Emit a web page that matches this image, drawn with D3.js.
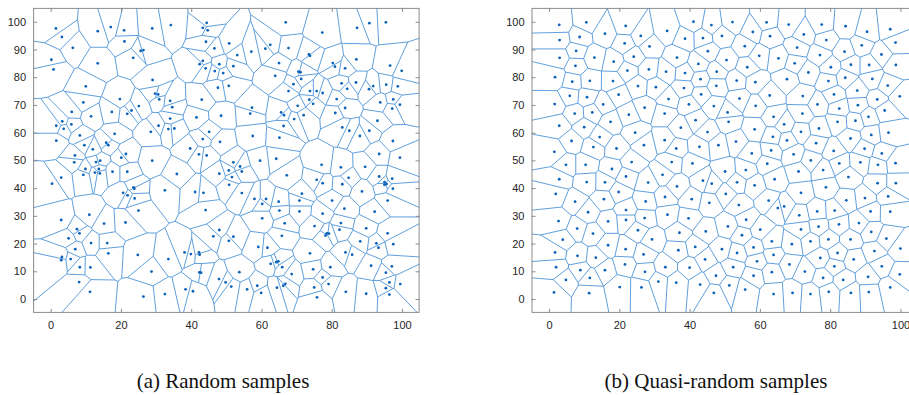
<!DOCTYPE html>
<html>
<head>
<meta charset="utf-8">
<script src="https://cdn.jsdelivr.net/npm/d3@7"></script>
<style>
  body { margin: 0; background: #fff; }
  svg { display: block; }
</style>
</head>
<body>
<svg id="chart" width="909" height="395"></svg>
<script>
// Axis settings shared by both panels
const axisDomain = [-5, 105];
const xTickValues = [0, 20, 40, 60, 80, 100];
const yTickValues = [0, 10, 20, 30, 40, 50, 60, 70, 80, 90, 100];
const captions = ["(a) Random samples", "(b) Quasi-random samples"];

// Sample sites for panel (a): uniformly random points in [0,100]^2
const randomSamples = [
  [1.5,97.6],[3.2,94.5],[6.3,90.6],[13.4,96.6],[17.1,98.1],[20.9,96.9],[28.9,97.6],[21.0,92.9],[25.6,89.5],[26.4,89.8],
  [23.5,87.0],[0.2,86.3],[0.8,82.8],[13.4,85.0],[29.0,79.0],[10.0,76.7],[29.7,74.1],[30.6,73.8],[30.9,72.0],[19.7,72.1],
  [9.3,70.9],[25.1,69.6],[23.0,68.0],[21.8,66.8],[6.0,67.5],[17.4,67.5],[11.5,65.9],[3.3,64.1],[1.6,62.5],[3.7,61.4],
  [5.9,63.0],[28.5,60.3],[30.7,62.5],[18.2,59.6],[8.3,59.0],[1.6,57.1],[9.6,55.5],[15.8,56.4],[16.4,55.5],[12.0,54.0],
  [6.9,51.8],[21.4,52.3],[20.1,51.0],
  [34.2,98.8],[44.4,99.6],[43.3,97.8],[44.7,96.9],[66.9,99.8],[44.2,92.8],[50.8,92.2],[46.6,90.4],[62.5,91.7],[61.1,90.3],
  [67.7,90.5],[57.1,89.2],[53.1,88.0],[43.3,85.9],[42.4,84.7],[48.0,84.7],[44.1,83.2],[52.0,84.0],[65.0,85.1],[46.7,82.2],
  [49.1,81.5],[63.9,80.5],[50.7,76.9],[47.6,76.2],[67.7,75.0],[34.0,71.5],[34.6,69.2],[43.0,71.9],[57.3,69.0],[56.8,66.9],
  [65.6,67.3],[66.4,66.3],[41.5,65.5],[48.5,66.1],[34.0,65.1],[33.5,61.3],[35.2,61.5],[66.3,62.4],[45.1,60.3],[57.5,58.8],
  [43.3,57.7],[65.1,58.2],[48.2,56.7],[39.7,54.3],[42.2,52.2],[44.4,51.8],
  [77.3,96.1],[87.2,97.8],[90.7,99.5],[95.4,99.8],[73.5,88.2],[73.8,87.7],[87.0,86.4],[80.3,85.1],[80.9,83.8],[96.6,84.2],
  [83.8,83.2],[99.9,82.3],[70.5,82.0],[71.1,81.8],[71.3,79.4],[69.1,77.5],[82.8,77.8],[86.9,78.1],[91.8,76.8],[90.6,75.7],
  [95.5,77.3],[98.8,76.7],[84.4,75.8],[73.8,75.0],[75.7,75.0],[77.4,74.3],[81.4,72.1],[73.6,71.9],[74.7,70.4],[93.8,70.9],
  [97.5,72.0],[99.4,70.1],[70.3,69.7],[83.8,68.9],[97.2,68.7],[81.0,67.1],[72.0,66.3],[69.3,64.9],[93.0,64.3],[83.0,61.9],
  [85.0,60.7],[90.7,60.7],[88.0,58.8],[97.4,57.0],[93.5,52.3],[99.4,51.0],
  [6.7,49.3],[9.9,46.9],[12.9,49.4],[14.1,49.9],[13.7,46.9],[12.6,45.6],[14.0,45.3],[9.3,44.8],[3.0,43.8],[0.4,41.6],
  [17.6,45.9],[21.8,45.9],[28.9,49.9],[20.6,38.3],[21.9,37.4],[23.6,40.3],[23.8,39.8],[23.9,36.3],[25.0,31.9],[11.0,30.4],
  [3.0,28.5],[15.2,27.2],[21.3,27.6],[7.5,25.2],[8.2,23.7],[5.1,21.9],[11.5,20.2],[16.1,20.2],[7.0,18.0],[16.4,16.5],
  [24.8,15.9],[3.2,15.2],[3.0,14.0],[5.7,14.4],[8.3,11.5],[11.3,11.4],[28.7,9.9],[8.1,6.1],[11.2,2.6],[26.4,0.9],
  [35.9,45.1],[52.0,49.3],[53.9,47.8],[54.4,46.0],[50.7,46.4],[48.0,45.2],[51.6,44.0],[50.8,41.2],[59.6,49.9],[64.2,50.6],
  [67.2,44.6],[32.5,39.2],[41.1,38.6],[43.5,38.3],[54.4,38.2],[58.0,36.1],[61.3,36.1],[60.2,34.3],[64.9,35.1],[65.1,31.9],
  [44.1,32.1],[60.2,29.1],[66.6,27.3],[48.0,24.9],[46.3,22.6],[52.0,22.5],[50.7,21.0],[65.8,22.8],[59.1,18.8],[61.7,18.5],
  [38.1,16.8],[39.9,16.2],[42.2,16.8],[42.4,16.0],[33.5,14.4],[62.6,12.7],[64.2,13.3],[64.8,13.6],[65.9,11.5],[42.3,9.6],
  [42.8,9.5],[53.7,9.7],[47.9,7.2],[49.8,6.0],[51.4,4.5],[58.8,4.8],[64.4,4.1],[66.2,4.8],[66.8,5.5],[32.5,1.8],
  [38.4,3.5],[40.5,2.8],[55.9,3.5],[59.9,2.2],
  [77.1,48.4],[82.6,47.5],[89.5,47.7],[75.7,43.0],[77.4,41.8],[84.8,43.7],[83.0,41.4],[93.5,44.2],[95.0,42.2],[95.6,41.5],
  [95.0,41.2],[97.2,43.4],[97.4,39.8],[88.6,38.8],[71.5,38.0],[70.8,35.5],[80.1,35.5],[95.9,35.5],[70.8,31.6],[77.4,30.8],
  [83.6,32.6],[92.2,31.5],[82.6,27.4],[75.1,26.3],[82.2,25.0],[89.8,25.5],[78.6,23.7],[79.2,23.6],[78.2,22.9],[95.9,23.7],
  [88.1,20.8],[92.7,20.1],[93.3,18.5],[97.5,19.8],[83.9,16.8],[85.8,16.0],[73.8,16.5],[79.6,11.5],[91.2,12.0],[97.1,11.8],
  [74.7,10.7],[68.6,9.0],[95.4,9.5],[77.4,7.8],[96.4,6.0],[99.5,5.4],[79.1,5.4],[75.0,4.2],[95.4,3.9],[96.4,1.6],
  [84.0,2.6],[89.8,1.9],[75.8,0.6]
];

// Sample sites for panel (b): low-discrepancy (quasi-random) points in [0,100]^2
const quasiSamples = [
  [2.9,98.9],[10.6,99.8],[21.8,98.5],[26.1,94.9],[8.7,94.5],[15.9,95.7],[3.0,93.4],[21.5,92.2],[7.7,89.5],[28.6,91.1],
  [3.0,87.0],[12.9,87.1],[24.1,87.4],[18.4,85.6],[7.5,84.1],[22.3,82.4],[28.4,82.8],[1.7,80.0],[6.6,78.4],[11.6,78.7],
  [18.2,78.6],[25.3,76.8],[5.9,73.3],[10.8,72.8],[19.8,73.7],[1.6,70.3],[15.4,70.2],[27.2,69.0],[7.3,66.9],[12.3,67.3],
  [22.7,66.5],[2.9,62.5],[17.5,63.9],[10.0,62.0],[24.5,60.0],[14.4,58.4],[6.4,57.0],[27.0,55.5],[1.5,53.1],[19.2,54.3],
  [12.6,54.8],
  [41.1,100.0],[46.2,98.8],[52.2,99.9],[61.9,99.8],[33.6,96.7],[38.7,93.9],[43.8,94.1],[49.2,94.9],[58.0,96.3],[62.9,94.8],
  [55.7,91.2],[45.2,89.4],[36.4,87.1],[59.8,87.7],[42.5,84.8],[50.5,86.2],[56.4,83.6],[65.3,86.8],[33.3,82.0],[38.7,81.5],
  [47.7,82.0],[43.1,79.3],[53.4,78.8],[58.7,78.2],[30.4,76.4],[47.6,76.9],[38.4,76.1],[62.8,73.4],[43.3,73.8],[54.2,72.3],
  [34.0,72.1],[58.8,69.7],[39.8,70.2],[46.9,69.6],[32.9,66.9],[50.8,67.3],[41.7,64.5],[37.5,61.8],[51.1,63.9],[63.9,65.7],
  [45.1,60.2],[58.5,61.2],[32.9,57.3],[63.7,58.5],[53.2,56.8],[36.2,54.3],[42.8,54.9],[48.2,55.5],[63.2,53.6],[57.7,52.5],
  [68.2,99.0],[77.6,99.0],[84.4,98.4],[90.5,96.4],[97.1,97.3],[72.5,95.4],[78.9,93.4],[98.6,92.5],[70.6,90.7],[89.0,91.5],
  [84.1,89.2],[77.1,88.0],[94.6,88.2],[69.9,85.0],[80.2,83.6],[85.9,84.5],[91.1,84.4],[98.7,84.4],[73.8,81.7],[84.3,79.8],
  [92.0,79.4],[67.7,79.3],[79.5,78.6],[96.4,77.0],[87.7,75.2],[81.1,73.8],[72.2,73.2],[99.8,73.1],[93.4,72.0],[76.4,70.2],
  [87.9,69.9],[82.6,68.7],[72.1,66.9],[95.5,68.0],[90.9,65.7],[82.1,63.9],[87.2,64.3],[66.9,63.0],[76.8,61.5],[71.7,60.3],
  [96.6,60.0],[91.7,59.2],[85.8,57.9],[67.7,57.2],[76.0,56.2],[81.0,53.4],[89.8,54.2],[94.7,52.5],[69.6,52.2],
  [4.8,48.4],[10.4,48.4],[17.9,46.9],[23.5,49.4],[2.9,43.2],[10.7,42.2],[15.9,42.1],[21.9,44.2],[28.2,42.0],[1.9,37.9],
  [19.8,38.6],[7.4,35.1],[15.6,36.0],[27.5,35.2],[11.1,31.3],[21.9,32.1],[2.7,28.1],[16.8,28.0],[21.9,28.5],[27.2,29.2],
  [8.0,25.4],[12.5,23.6],[25.3,24.8],[3.9,21.4],[29.3,21.5],[16.8,19.4],[21.8,18.0],[1.7,16.8],[8.1,15.6],[13.3,14.9],
  [26.9,16.1],[2.0,11.5],[8.9,10.4],[15.9,10.4],[21.6,12.5],[27.3,9.8],[4.8,6.9],[11.6,7.6],[20.1,4.3],[26.3,4.2],
  [1.4,2.4],[11.4,2.1],
  [34.9,49.4],[40.8,48.9],[62.1,48.8],[50.1,46.0],[56.0,46.5],[32.3,44.8],[43.8,42.7],[46.3,41.6],[36.4,40.6],[53.5,42.1],
  [58.5,41.0],[64.2,43.2],[50.3,37.9],[40.6,36.0],[33.0,36.8],[62.5,35.5],[45.6,34.7],[54.0,33.9],[33.7,30.4],[39.7,29.1],
  [56.1,28.6],[65.1,32.8],[50.9,26.2],[44.6,24.4],[60.1,25.0],[37.1,23.9],[54.9,23.0],[63.4,20.8],[41.6,18.8],[49.2,18.0],
  [58.2,18.6],[36.8,17.6],[44.4,14.3],[53.5,16.6],[63.9,15.9],[33.1,11.5],[40.0,11.3],[52.4,11.5],[59.2,13.6],[47.5,8.4],
  [58.2,8.4],[63.4,9.7],[31.1,6.3],[36.2,5.9],[43.0,5.2],[51.3,4.9],[55.8,3.4],[46.9,2.2],[63.9,1.8],
  [74.5,50.0],[82.6,48.9],[88.6,49.3],[93.6,48.4],[98.6,49.0],[71.0,46.0],[78.0,46.5],[85.2,44.0],[93.5,41.8],[98.7,41.8],
  [71.7,38.3],[78.8,40.3],[89.9,36.4],[96.5,37.0],[84.6,35.6],[66.9,33.4],[76.3,31.6],[81.3,31.9],[91.5,31.6],[97.1,31.5],
  [71.2,30.2],[88.2,27.4],[71.7,25.1],[76.7,26.1],[82.5,26.9],[91.7,24.2],[69.1,19.8],[74.4,20.8],[79.5,21.5],[85.8,21.5],
  [96.0,21.8],[100.0,18.2],[92.6,17.3],[82.1,16.6],[77.2,14.8],[86.7,14.3],[68.4,12.5],[81.2,11.8],[94.7,11.8],[72.8,9.9],
  [78.0,7.6],[83.7,6.9],[90.8,8.0],[99.8,8.9],[97.1,4.2],[69.3,2.2],[74.4,1.8],[79.6,2.6],[85.9,2.2],[91.0,2.5]
];

const svg = d3.select("#chart");
const plotTop = 7.9, plotBottom = 312.9;
const panels = [
  { samples: randomSamples, left: 33.1, right: 419.6, caption: captions[0], captionX: 223 },
  { samples: quasiSamples, left: 531.5, right: 918.0, caption: captions[1], captionX: 716 }
];

const edgeColor = "#4d94d8";
const siteColor = "#0b62b8";
const frameColor = "#8c8c8c";

panels.forEach((p, i) => {
  const x = d3.scaleLinear().domain(axisDomain).range([p.left, p.right]);
  const y = d3.scaleLinear().domain(axisDomain).range([plotBottom, plotTop]);

  const g = svg.append("g");
  const clipId = "clip" + i;
  g.append("clipPath").attr("id", clipId)
    .append("rect")
    .attr("x", p.left).attr("y", plotTop)
    .attr("width", p.right - p.left).attr("height", plotBottom - plotTop);

  // Voronoi tessellation of the sites, bounded by the axes box
  const delaunay = d3.Delaunay.from(p.samples, d => x(d[0]), d => y(d[1]));
  const voronoi = delaunay.voronoi([p.left, plotTop, p.right, plotBottom]);

  const plot = g.append("g").attr("clip-path", `url(#${clipId})`);
  plot.append("path")
    .attr("d", voronoi.render())
    .attr("fill", "none")
    .attr("stroke", edgeColor)
    .attr("stroke-width", 0.9);

  plot.selectAll("circle")
    .data(p.samples)
    .join("circle")
    .attr("cx", d => x(d[0]))
    .attr("cy", d => y(d[1]))
    .attr("r", 1.4)
    .attr("fill", siteColor);

  // Axes with inward ticks on all four sides
  const styleAxis = sel => {
    sel.select(".domain").remove();
    sel.selectAll(".tick line").attr("stroke", frameColor);
    sel.selectAll(".tick text")
      .attr("fill", "#262626")
      .style("font-family", "'Liberation Sans', Arial, sans-serif")
      .style("font-size", "11px");
  };
  g.append("g").attr("transform", `translate(0,${plotBottom})`)
    .call(d3.axisBottom(x).tickValues(xTickValues).tickSize(-4).tickPadding(8))
    .call(styleAxis);
  g.append("g").attr("transform", `translate(0,${plotTop})`)
    .call(d3.axisTop(x).tickValues(xTickValues).tickSize(-4).tickFormat(""))
    .call(styleAxis);
  g.append("g").attr("transform", `translate(${p.left},0)`)
    .call(d3.axisLeft(y).tickValues(yTickValues).tickSize(-4).tickPadding(7))
    .call(styleAxis);
  g.append("g").attr("transform", `translate(${p.right},0)`)
    .call(d3.axisRight(y).tickValues(yTickValues).tickSize(-4).tickFormat(""))
    .call(styleAxis);

  g.append("rect")
    .attr("x", p.left + 0.5).attr("y", plotTop + 0.5)
    .attr("width", p.right - p.left - 1).attr("height", plotBottom - plotTop - 1)
    .attr("fill", "none").attr("stroke", frameColor).attr("stroke-width", 1);

  svg.append("text")
    .attr("x", p.captionX).attr("y", 388)
    .attr("text-anchor", "middle")
    .style("font-family", "'Liberation Serif', 'Times New Roman', serif")
    .style("font-size", "21px")
    .attr("fill", "#111")
    .text(p.caption);
});
</script>
</body>
</html>
